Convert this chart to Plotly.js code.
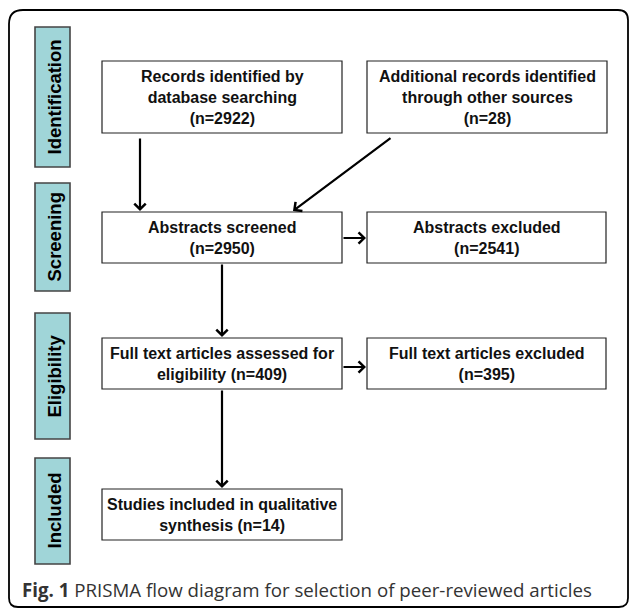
<!DOCTYPE html>
<html>
<head>
<meta charset="utf-8">
<script src="https://cdn.plot.ly/plotly-3.0.1.min.js"></script>
<style>
html,body{margin:0;padding:0;background:#fff;}
#chart{width:630px;height:609px;}
</style>
</head>
<body>
<div id="chart"></div>
<script>
// ---- data ----
const stages = ['Identification', 'Screening', 'Eligibility', 'Included'];
const boxLabels = [
  'Records identified by<br>database searching',
  'Additional records identified<br>through other sources',
  'Abstracts screened',
  'Abstracts excluded',
  'Full text articles assessed for<br>eligibility',
  'Full text articles excluded',
  'Studies included in qualitative<br>synthesis'
];
const boxCounts = [2922, 28, 2950, 2541, 409, 395, 14];
const countSeparators = ['<br>', '<br>', '<br>', '<br>', ' ', '<br>', ' '];
const flowFrom = [0, 1, 2, 2, 4, 4];
const flowTo   = [2, 2, 3, 4, 5, 6];
const captionBold = 'Fig. 1';
const captionText = 'PRISMA flow diagram for selection of peer-reviewed articles';

// ---- layout geometry (pixel space) ----
const stageGeom = [ // [x0, y0, x1, y1]
  [35, 27, 70, 167],
  [35, 183, 70, 291],
  [35, 313, 70, 439],
  [35, 458, 70, 564]
];
const boxGeom = [
  [102, 61, 342, 133],
  [367, 61, 607, 133],
  [102, 212, 342, 263],
  [367, 212, 606, 263],
  [102, 338, 342, 389],
  [367, 338, 606, 389],
  [102, 489, 342, 540]
];
// arrow tail / head points for each flow
const arrowGeom = [ // [tailX, tailY, headX, headY]
  [140, 137, 140, 211],
  [392, 137, 293, 211],
  [342, 238, 366, 238],
  [222, 263, 222, 337],
  [342, 367, 366, 367],
  [222, 389, 222, 488]
];

const shapes = [];
const annotations = [];

// outer rounded frame
shapes.push({
  type: 'path', xref: 'x', yref: 'y',
  path: 'M 9,24 Q 9,10 23,10 L 618,10 Q 628,10 628,20 L 628,598 Q 628,607 619,607 L 18,607 Q 9,607 9,598 Z',
  line: {color: '#000', width: 1.8}, fillcolor: 'rgba(0,0,0,0)'
});

stages.forEach((s, i) => {
  const g = stageGeom[i];
  shapes.push({type: 'rect', xref: 'x', yref: 'y', x0: g[0], y0: g[1], x1: g[2], y1: g[3],
    fillcolor: '#a0d5d8', line: {color: '#444', width: 1.6}});
  annotations.push({xref: 'x', yref: 'y', x: (g[0] + g[2]) / 2 + 1, y: (g[1] + g[3]) / 2,
    text: '<b>' + s + '</b>', textangle: -90, showarrow: false,
    xanchor: 'center', yanchor: 'middle',
    font: {family: 'Liberation Sans, Arial, sans-serif', size: 18.5, color: '#000', weight: 'bold'}});
});

boxLabels.forEach((lab, i) => {
  const g = boxGeom[i];
  shapes.push({type: 'rect', xref: 'x', yref: 'y', x0: g[0], y0: g[1], x1: g[2], y1: g[3],
    fillcolor: '#ffffff', line: {color: '#222', width: 1.2}});
  annotations.push({xref: 'x', yref: 'y', x: (g[0] + g[2]) / 2, y: (g[1] + g[3]) / 2,
    text: '<b>' + lab + countSeparators[i] + '(n=' + boxCounts[i] + ')</b>',
    showarrow: false, xanchor: 'center', yanchor: 'middle', align: 'center',
    font: {family: 'Liberation Sans, Arial, sans-serif', size: 16, color: '#111'}});
});

flowFrom.forEach((f, i) => {
  const a = arrowGeom[i];
  annotations.push({xref: 'x', yref: 'y', axref: 'x', ayref: 'y',
    x: a[2], y: a[3], ax: a[0], ay: a[1], text: '', showarrow: true,
    arrowhead: 4, arrowsize: 1, arrowwidth: 2.2, arrowcolor: '#000', standoff: 0, startstandoff: 0});
});

annotations.push({xref: 'x', yref: 'y', x: 20, y: 589, xanchor: 'left', yanchor: 'middle',
  text: '<b>' + captionBold + '</b> ' + captionText, showarrow: false,
  font: {family: 'Open Sans, sans-serif', size: 18.7, color: '#333'}});

const layout = {
  width: 630, height: 609,
  margin: {l: 0, r: 0, t: 0, b: 0},
  paper_bgcolor: '#fff', plot_bgcolor: '#fff',
  xaxis: {range: [0, 630], visible: false, fixedrange: true},
  yaxis: {range: [609, 0], visible: false, fixedrange: true},
  shapes: shapes, annotations: annotations, showlegend: false
};

Plotly.newPlot('chart', [], layout, {staticPlot: true, displayModeBar: false});
</script>
</body>
</html>
